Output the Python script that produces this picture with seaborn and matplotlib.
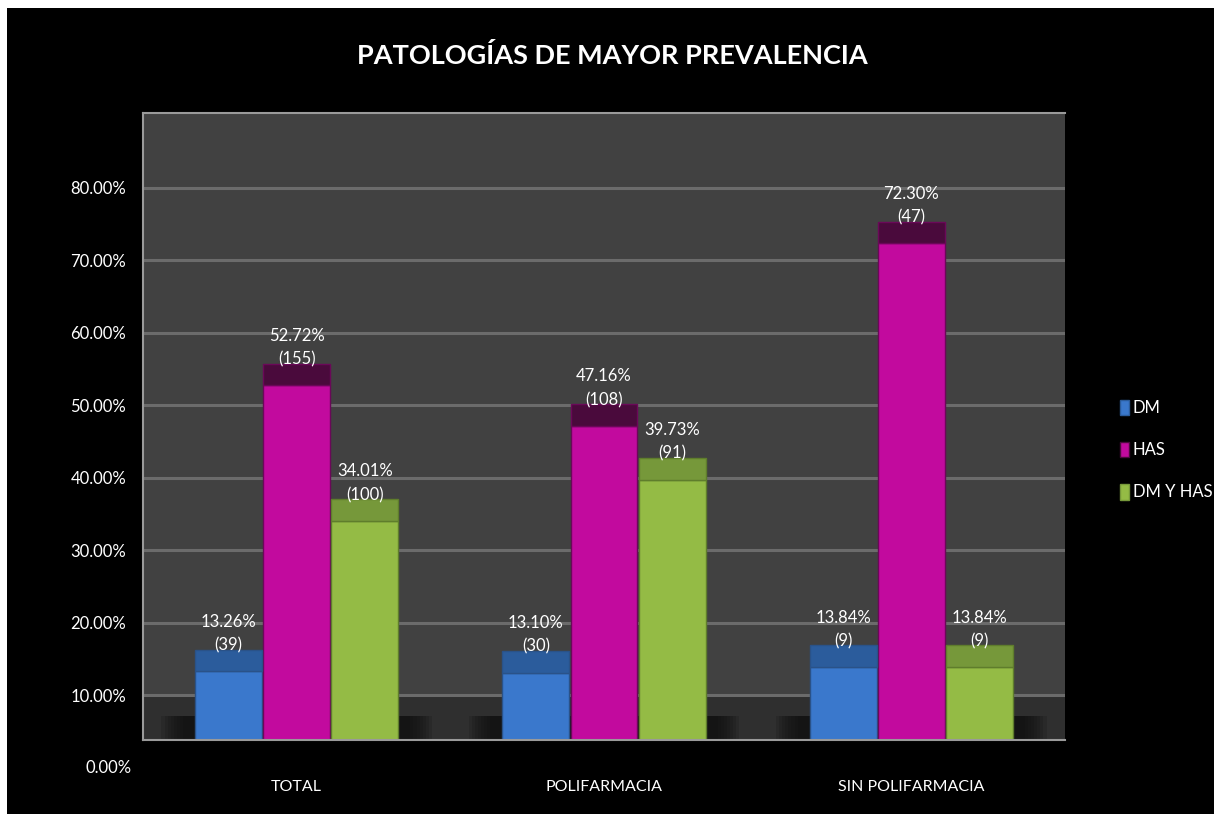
import matplotlib
matplotlib.use("Agg")
import matplotlib.pyplot as plt
from matplotlib.patches import Rectangle, Patch
import seaborn as sns
import pandas as pd

# ---- data ----
categories = ["TOTAL", "POLIFARMACIA", "SIN POLIFARMACIA"]
series = ["DM", "HAS", "DM Y HAS"]
dm_pct = [0.1326, 0.1310, 0.1384]
has_pct = [0.5272, 0.4716, 0.7230]
dmhas_pct = [0.3401, 0.3973, 0.1384]
dm_n = [39, 30, 9]
has_n = [155, 108, 47]
dmhas_n = [100, 91, 9]
y_ticks = [0.0, 0.1, 0.2, 0.3, 0.4, 0.5, 0.6, 0.7, 0.8]
y_tick_labels = ["0.00%", "10.00%", "20.00%", "30.00%", "40.00%",
                 "50.00%", "60.00%", "70.00%", "80.00%"]
title = "PATOLOGÍAS DE MAYOR PREVALENCIA"

colors = {"DM": "#3a78cc", "HAS": "#c20a9e", "DM Y HAS": "#94bb45"}
cap_colors = {"DM": "#2b5c9c", "HAS": "#4a0a3c", "DM Y HAS": "#76983a"}
edge_colors = {"DM": "#2a5288", "HAS": "#6a0858", "DM Y HAS": "#5f7d2c"}

rows = []
for s, vals, ns in zip(series, [dm_pct, has_pct, dmhas_pct], [dm_n, has_n, dmhas_n]):
    for c, v, n in zip(categories, vals, ns):
        rows.append({"cat": c, "serie": s, "pct": v, "n": n})
df = pd.DataFrame(rows)

sns.set_style("dark")
fam = ["Lato", "DejaVu Sans"]
plt.rcParams["font.family"] = fam

fig = plt.figure(figsize=(12.14, 8.14), dpi=100, facecolor="black")
# white strips at top/left edge
fig.patches.append(Rectangle((0, 1 - 8 / 814), 1, 8 / 814, transform=fig.transFigure,
                             facecolor="white", edgecolor="none", zorder=-1))
fig.patches.append(Rectangle((0, 0), 7 / 1214, 1, transform=fig.transFigure,
                             facecolor="white", edgecolor="none", zorder=-1))

ax = fig.add_axes([143 / 1214, 1 - 740 / 814, (1065 - 143) / 1214, (740 - 113) / 814])
ax.set_facecolor("#414141")

YMIN, YMAX = 0.038, 0.903
CAP = 0.03

# floor
ax.axhspan(YMIN, 0.10, color="#2f2f2f", zorder=0)
# grid lines
for t in y_ticks[1:]:
    ax.axhline(t, color="#6b6b6b", lw=2.2, zorder=0.5)

sns.barplot(data=df, x="cat", y="pct", hue="serie", order=categories,
            hue_order=series, palette=colors, width=0.665, gap=0.02,
            saturation=1, ax=ax, legend=False, zorder=2)
bar_containers = list(ax.containers)

# 3D-like top caps and labels
for s, cont in zip(series, bar_containers):
    sub = df[df["serie"] == s].set_index("cat").loc[categories]
    for bar, (_, r) in zip(cont, sub.iterrows()):
        bar.set_edgecolor(edge_colors[s])
        bar.set_linewidth(1.0)
        ax.bar(bar.get_x(), CAP, width=bar.get_width(), bottom=bar.get_height(),
               align="edge", color=cap_colors[s], edgecolor=edge_colors[s],
               lw=1.0, zorder=2.1)
        ax.text(bar.get_x() + bar.get_width() / 2, bar.get_height() + CAP + 0.022,
                f"{r['pct'] * 100:.2f}%\n({r['n']})", ha="center", va="center",
                color="white", fontsize=12, linespacing=1.6, zorder=3)

# soft floor shadows under groups
for i in range(len(categories)):
    for k in range(8):
        ax.bar(i, 0.071, width=0.88 - 0.02 * k, color="#0e0e0e", alpha=0.16,
               zorder=0.8, lw=0)

ax.set_ylim(YMIN, YMAX)
ax.set_xlim(-0.5, 2.5)
ax.set_yticks(y_ticks[1:])
ax.set_yticklabels(y_tick_labels[1:])
ax.text(-0.0125, 0.0, y_tick_labels[0], transform=ax.get_yaxis_transform(),
        ha="right", va="center", color="white", fontsize=12, clip_on=False)
ax.tick_params(axis="y", colors="white", labelsize=12, length=0, pad=12)
ax.tick_params(axis="x", colors="white", labelsize=11.5, length=0, pad=29)
ax.set_xlabel("")
ax.set_ylabel("")
ax.grid(False)
for side in ["top", "left", "bottom"]:
    ax.spines[side].set_visible(True)
    ax.spines[side].set_color("#9a9a9a")
    ax.spines[side].set_linewidth(1.5)
ax.spines["right"].set_visible(False)

fig.text(612 / 1214, 1 - 56 / 814, title, ha="center", va="center",
         color="white", fontsize=19.5, fontweight="bold")

handles = [Patch(facecolor=colors[s], edgecolor=cap_colors[s]) for s in series]
fig.legend(handles, series, loc="center left", bbox_to_anchor=(1112 / 1214, 1 - 450 / 814),
           frameon=False, labelcolor="white", fontsize=12, handlelength=0.5,
           handleheight=1.05, handletextpad=0.25, labelspacing=1.55, borderpad=0)

fig.savefig("out.png", dpi=100, facecolor=fig.get_facecolor())
